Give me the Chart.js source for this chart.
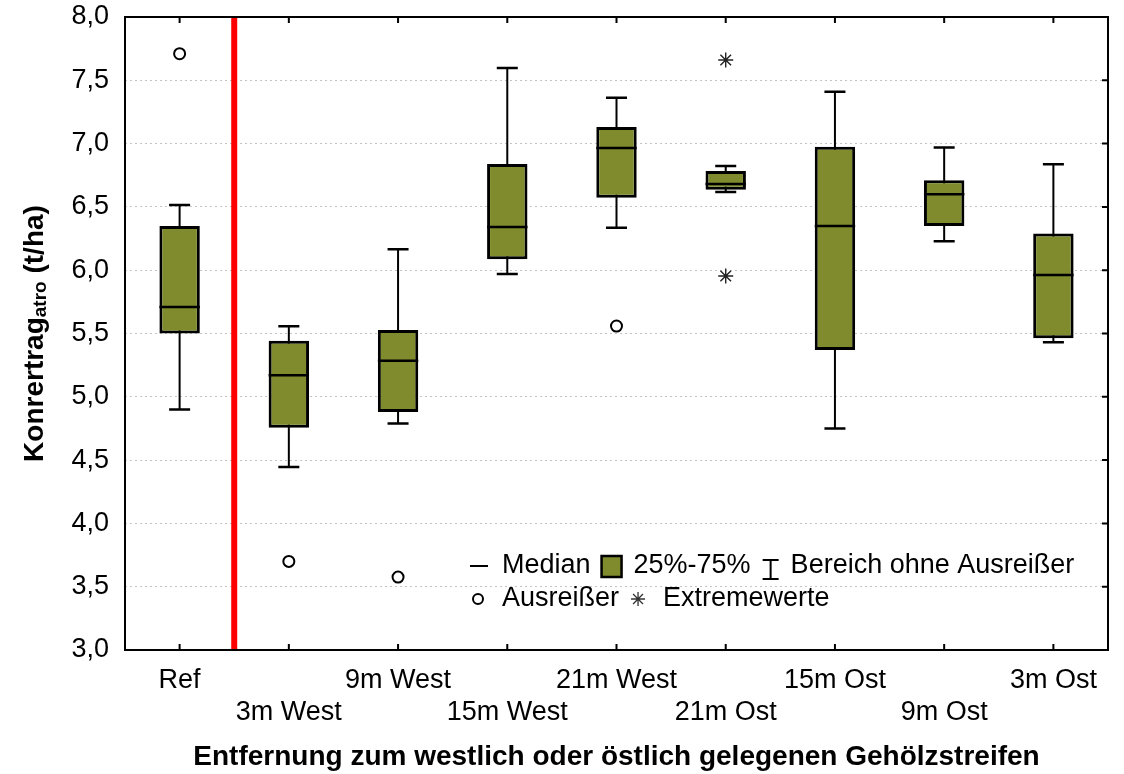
<!DOCTYPE html>
<html><head><meta charset="utf-8">
<script src="https://cdn.jsdelivr.net/npm/chart.js@4.4.1/dist/chart.umd.min.js"></script>
<style>html,body{margin:0;padding:0;background:#fff;}#wrap{width:1124px;height:774px;position:relative;}</style>
</head><body><div id="wrap"><canvas id="c" width="1124" height="774"></canvas></div>
<script>
const categories = ['Ref','3m West','9m West','15m West','21m West','21m Ost','15m Ost','9m Ost','3m Ost'];
const whiskerLow  = [4.90, 4.445, 4.79, 5.97, 6.336, 6.618, 4.75, 6.228, 5.43];
const q1          = [5.50, 4.756, 4.88, 6.086, 6.573, 6.636, 5.37, 6.35, 5.462];
const median      = [5.71, 5.17, 5.285, 6.341, 6.965, 6.68, 6.349, 6.60, 5.962];
const q3          = [6.35, 5.443, 5.528, 6.839, 7.131, 6.784, 6.976, 6.71, 6.29];
const whiskerHigh = [6.515, 5.557, 6.165, 7.597, 7.363, 6.823, 7.41, 6.97, 6.836];
const outlierCats = ['Ref', '3m West', '9m West', '21m West'];
const outlierVals = [7.71, 3.70, 3.576, 5.559];
const extremeCats = ['21m Ost', '21m Ost'];
const extremeVals = [7.66, 5.954];
const yMin = 3.0, yMax = 8.0, yStep = 0.5;
const legendRow1 = ['Median', '25%-75%', 'Bereich ohne Ausreißer'];
const legendRow2 = ['Ausreißer', 'Extremewerte'];
const xTitle = 'Entfernung zum westlich oder östlich gelegenen Gehölzstreifen';
const yTitleMain = 'Konrertrag', yTitleSub = 'atro', yTitleUnit = ' (t/ha)';

const OLIVE = '#7f8b2c';
const FONT = '"Liberation Sans", Arial, Helvetica, sans-serif';

const boxPlugin = {
  id: 'boxDecor',
  beforeDatasetsDraw(chart) {
    const ctx = chart.ctx, y = chart.scales.y, meta = chart.getDatasetMeta(0);
    ctx.save();
    ctx.strokeStyle = '#000';
    meta.data.forEach((bar, i) => {
      const x = bar.x, capHalf = bar.width * 0.26;
      const yl = y.getPixelForValue(whiskerLow[i]), yh = y.getPixelForValue(whiskerHigh[i]);
      ctx.lineWidth = 2;
      ctx.beginPath(); ctx.moveTo(x, yh); ctx.lineTo(x, yl); ctx.stroke();
      ctx.lineWidth = 2.5;
      ctx.beginPath();
      ctx.moveTo(x - capHalf, yh); ctx.lineTo(x + capHalf, yh);
      ctx.moveTo(x - capHalf, yl); ctx.lineTo(x + capHalf, yl);
      ctx.stroke();
    });
    ctx.restore();
  },
  afterDatasetsDraw(chart) {
    const ctx = chart.ctx, y = chart.scales.y, xs = chart.scales.x, meta = chart.getDatasetMeta(0);
    const area = chart.chartArea;
    ctx.save();
    ctx.strokeStyle = '#000'; ctx.lineWidth = 2.5;
    meta.data.forEach((bar, i) => {
      const ym = y.getPixelForValue(median[i]);
      ctx.beginPath(); ctx.moveTo(bar.x - bar.width / 2, ym); ctx.lineTo(bar.x + bar.width / 2, ym); ctx.stroke();
    });
    // red separator between Ref and the others
    const xr = xs.getPixelForValue(0.5);
    ctx.strokeStyle = '#ff0000'; ctx.lineWidth = 6;
    ctx.beginPath(); ctx.moveTo(xr, area.top); ctx.lineTo(xr, area.bottom); ctx.stroke();
    ctx.restore();
  },
  afterDraw(chart) {
    const ctx = chart.ctx, a = chart.chartArea, xs = chart.scales.x, ys = chart.scales.y;
    ctx.save();
    // frame
    ctx.strokeStyle = '#000'; ctx.lineWidth = 2;
    ctx.strokeRect(a.left, a.top, a.right - a.left, a.bottom - a.top);
    // inward ticks
    ctx.beginPath();
    categories.forEach((c, i) => {
      const px = xs.getPixelForTick(i);
      ctx.moveTo(px, a.top); ctx.lineTo(px, a.top + 6);
      ctx.moveTo(px, a.bottom); ctx.lineTo(px, a.bottom - 6);
    });
    ys.ticks.forEach((t, i) => {
      const py = ys.getPixelForTick(i);
      ctx.moveTo(a.right, py); ctx.lineTo(a.right - 6, py);
    });
    ctx.stroke();

    // y title with subscript
    ctx.fillStyle = '#000';
    ctx.textBaseline = 'middle';
    const fMain = 'bold 28px ' + FONT, fSub = 'bold 19px ' + FONT;
    ctx.font = fMain; const w1 = ctx.measureText(yTitleMain).width, w3 = ctx.measureText(yTitleUnit).width;
    ctx.font = fSub; const w2 = ctx.measureText(yTitleSub).width;
    const total = w1 + w2 + w3;
    ctx.save();
    ctx.translate(35, (a.top + a.bottom) / 2);
    ctx.rotate(-Math.PI / 2);
    let tx = -total / 2;
    ctx.textAlign = 'left';
    ctx.font = fMain; ctx.fillText(yTitleMain, tx, 0); tx += w1;
    ctx.font = fSub; ctx.fillText(yTitleSub, tx, 6); tx += w2;
    ctx.font = fMain; ctx.fillText(yTitleUnit, tx, 0);
    ctx.restore();

    // legend
    ctx.font = '27px ' + FONT; ctx.textAlign = 'left'; ctx.textBaseline = 'middle';
    const r1 = 566, r2 = 599;
    let lx = 470;
    ctx.lineWidth = 2; ctx.strokeStyle = '#000';
    ctx.beginPath(); ctx.moveTo(lx, r1); ctx.lineTo(lx + 18, r1); ctx.stroke();
    lx += 32;
    ctx.fillText(legendRow1[0], lx, r1); lx += ctx.measureText(legendRow1[0]).width + 11;
    ctx.fillStyle = OLIVE; ctx.fillRect(lx, r1 - 10, 20, 21);
    ctx.lineWidth = 2.5; ctx.strokeRect(lx, r1 - 10, 20, 21);
    ctx.fillStyle = '#000';
    lx += 32;
    ctx.fillText(legendRow1[1], lx, r1); lx += ctx.measureText(legendRow1[1]).width + 12;
    ctx.lineWidth = 2;
    ctx.beginPath();
    ctx.moveTo(lx + 8, r1 - 6); ctx.lineTo(lx + 8, r1 + 13);
    ctx.moveTo(lx, r1 - 6); ctx.lineTo(lx + 16, r1 - 6);
    ctx.moveTo(lx, r1 + 13); ctx.lineTo(lx + 16, r1 + 13);
    ctx.stroke();
    lx += 28;
    ctx.fillText(legendRow1[2], lx, r1);

    lx = 478;
    ctx.fillStyle = '#fff'; ctx.strokeStyle = '#000'; ctx.lineWidth = 2;
    ctx.beginPath(); ctx.arc(lx, r2, 5, 0, Math.PI * 2); ctx.fill(); ctx.stroke();
    ctx.fillStyle = '#000';
    lx = 502;
    ctx.fillText(legendRow2[0], lx, r2); lx += ctx.measureText(legendRow2[0]).width + 19;
    ctx.strokeStyle = '#333'; ctx.lineWidth = 1.3;
    Chart.helpers.drawPoint(ctx, {pointStyle: 'star', radius: 7, borderWidth: 1.3}, lx, r2);
    lx += 25;
    ctx.fillStyle = '#000';
    ctx.fillText(legendRow2[1], lx, r2);
    ctx.restore();
  }
};

const yTickValues = [];
for (let v = yMin; v <= yMax + 1e-9; v += yStep) yTickValues.push(+v.toFixed(1));

new Chart(document.getElementById('c'), {
  type: 'bar',
  data: {
    labels: categories,
    datasets: [
      {
        label: '25%-75%',
        data: categories.map((c, i) => [q1[i], q3[i]]),
        backgroundColor: OLIVE,
        borderColor: '#000',
        borderWidth: 3,
        borderSkipped: false,
        barPercentage: 0.37,
        categoryPercentage: 1.0,
        order: 2
      },
      {
        type: 'line',
        label: 'Ausreißer',
        data: outlierCats.map((c, i) => ({x: c, y: outlierVals[i]})),
        showLine: false,
        pointStyle: 'circle',
        pointRadius: 5.5,
        pointBackgroundColor: '#fff',
        pointBorderColor: '#000',
        pointBorderWidth: 2,
        order: 1
      },
      {
        type: 'line',
        label: 'Extremewerte',
        data: extremeCats.map((c, i) => ({x: c, y: extremeVals[i]})),
        showLine: false,
        pointStyle: 'star',
        pointRadius: 7.5,
        pointBorderColor: '#222',
        pointBorderWidth: 1.4,
        order: 1
      }
    ]
  },
  options: {
    responsive: false,
    animation: false,
    layout: {padding: {top: 17, right: 16, left: 0, bottom: 0}},
    plugins: {legend: {display: false}, tooltip: {enabled: false}},
    scales: {
      x: {
        type: 'category',
        offset: true,
        grid: {display: false, drawTicks: false},
        border: {display: false},
        ticks: {
          autoSkip: false, maxRotation: 0, minRotation: 0, padding: 14,
          color: '#000',
          font: {family: FONT, size: 27, lineHeight: 1.2},
          callback: (v, i) => (i % 2 === 0 ? categories[i] : ['', categories[i]])
        },
        title: {
          display: true, text: xTitle, color: '#000',
          font: {family: FONT, size: 28, weight: 'bold', lineHeight: 1.2},
          padding: {top: 0, bottom: 0}
        },
        afterFit: s => { s.height = 124; s.paddingLeft = 0; s.paddingRight = 0; }
      },
      y: {
        min: yMin, max: yMax,
        grid: {color: '#c4c4c4', lineWidth: 1, drawTicks: false},
        border: {display: false, dash: [2, 3]},
        afterBuildTicks: s => { s.ticks = yTickValues.map(v => ({value: v})); },
        ticks: {
          padding: 16, color: '#000',
          font: {family: FONT, size: 27},
          callback: v => Number(v).toFixed(1).replace('.', ',')
        },
        afterFit: s => { s.width = 125; s.paddingTop = 0; s.paddingBottom = 0; }
      }
    }
  },
  plugins: [boxPlugin]
});
</script></body></html>
